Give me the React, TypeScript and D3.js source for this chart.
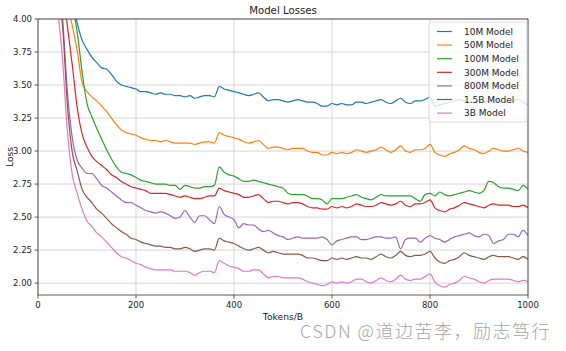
import * as d3 from "d3";

// token axis, one sample every 10 B tokens
const tokens = d3.range(0, 1001, 10);

const loss10M = [9.5, 7.6, 6.4, 5.6, 5.1, 4.7, 4.42, 4.16, 3.97, 3.84, 3.77, 3.71, 3.67, 3.63, 3.62, 3.58, 3.53, 3.5, 3.49, 3.48, 3.47, 3.45, 3.45, 3.44, 3.43, 3.44, 3.43, 3.43, 3.42, 3.42, 3.41, 3.42, 3.4, 3.41, 3.42, 3.42, 3.41, 3.49, 3.47, 3.46, 3.45, 3.44, 3.43, 3.42, 3.43, 3.44, 3.41, 3.38, 3.39, 3.39, 3.38, 3.37, 3.38, 3.39, 3.38, 3.37, 3.37, 3.36, 3.34, 3.34, 3.36, 3.35, 3.36, 3.35, 3.35, 3.37, 3.37, 3.36, 3.37, 3.38, 3.39, 3.37, 3.36, 3.38, 3.4, 3.37, 3.36, 3.38, 3.38, 3.39, 3.41, 3.34, 3.35, 3.36, 3.37, 3.38, 3.39, 3.38, 3.37, 3.37, 3.38, 3.37, 3.38, 3.39, 3.38, 3.37, 3.37, 3.38, 3.39, 3.37, 3.35];
const loss50M = [9.0, 7.2, 6.1, 5.3, 4.8, 4.42, 4.12, 3.95, 3.76, 3.52, 3.45, 3.41, 3.38, 3.34, 3.3, 3.25, 3.2, 3.16, 3.14, 3.13, 3.12, 3.1, 3.09, 3.08, 3.08, 3.07, 3.08, 3.07, 3.06, 3.06, 3.06, 3.06, 3.05, 3.06, 3.07, 3.07, 3.06, 3.14, 3.12, 3.11, 3.1, 3.09, 3.07, 3.06, 3.07, 3.08, 3.05, 3.02, 3.03, 3.03, 3.02, 3.01, 3.02, 3.02, 3.02, 3.0, 2.99, 2.99, 2.97, 2.97, 2.99, 2.98, 2.99, 2.98, 2.99, 3.01, 3.0, 2.99, 3.0, 3.01, 3.03, 3.01, 2.99, 3.01, 3.04, 3.0, 2.99, 3.01, 3.01, 3.02, 3.05, 2.99, 2.97, 2.96, 2.98, 2.99, 3.01, 3.04, 3.02, 3.01, 2.99, 2.98, 3.0, 3.02, 3.01, 3.0, 3.0, 3.01, 3.02, 3.0, 2.99];
const loss100M = [9.8, 8.0, 6.8, 5.9, 5.3, 4.8, 4.42, 4.12, 3.9, 3.6, 3.36, 3.26, 3.17, 3.09, 3.01, 2.94, 2.88, 2.84, 2.83, 2.82, 2.8, 2.78, 2.77, 2.76, 2.75, 2.75, 2.75, 2.74, 2.74, 2.71, 2.74, 2.73, 2.72, 2.72, 2.73, 2.73, 2.74, 2.88, 2.84, 2.82, 2.81, 2.79, 2.77, 2.77, 2.78, 2.77, 2.76, 2.75, 2.74, 2.73, 2.72, 2.68, 2.67, 2.67, 2.67, 2.66, 2.64, 2.64, 2.63, 2.6, 2.64, 2.64, 2.64, 2.65, 2.66, 2.67, 2.65, 2.64, 2.63, 2.65, 2.67, 2.66, 2.66, 2.66, 2.66, 2.66, 2.66, 2.64, 2.62, 2.67, 2.68, 2.66, 2.69, 2.67, 2.66, 2.67, 2.68, 2.69, 2.7, 2.69, 2.68, 2.7, 2.77, 2.76, 2.73, 2.72, 2.72, 2.71, 2.7, 2.74, 2.71];
const loss300M = [8.5, 7.0, 5.9, 5.1, 4.6, 4.22, 3.95, 3.65, 3.33, 3.13, 3.03, 2.96, 2.92, 2.89, 2.86, 2.82, 2.8, 2.77, 2.75, 2.73, 2.72, 2.71, 2.7, 2.68, 2.68, 2.68, 2.68, 2.67, 2.66, 2.65, 2.66, 2.65, 2.64, 2.64, 2.65, 2.66, 2.66, 2.72, 2.7, 2.69, 2.68, 2.67, 2.65, 2.65, 2.66, 2.67, 2.64, 2.61, 2.62, 2.62, 2.61, 2.6, 2.61, 2.61, 2.6, 2.58, 2.57, 2.57, 2.56, 2.56, 2.58, 2.57, 2.58, 2.57, 2.58, 2.6, 2.59, 2.58, 2.58, 2.59, 2.61, 2.6, 2.59, 2.6, 2.62, 2.59, 2.58, 2.6, 2.6, 2.61, 2.63, 2.57, 2.55, 2.54, 2.56, 2.57, 2.59, 2.61, 2.6, 2.59, 2.58, 2.57, 2.59, 2.6, 2.59, 2.59, 2.59, 2.58, 2.58, 2.59, 2.57];
const loss800M = [8.0, 6.6, 5.6, 4.9, 4.35, 4.02, 3.45, 3.1, 2.93, 2.87, 2.83, 2.83, 2.79, 2.74, 2.72, 2.69, 2.66, 2.63, 2.61, 2.61, 2.59, 2.57, 2.55, 2.54, 2.53, 2.54, 2.53, 2.51, 2.49, 2.5, 2.55, 2.5, 2.46, 2.51, 2.51, 2.48, 2.45, 2.58, 2.52, 2.5, 2.48, 2.42, 2.45, 2.44, 2.44, 2.41, 2.39, 2.4, 2.38, 2.36, 2.35, 2.33, 2.34, 2.35, 2.34, 2.34, 2.34, 2.34, 2.35, 2.33, 2.29, 2.32, 2.33, 2.34, 2.35, 2.35, 2.33, 2.33, 2.34, 2.35, 2.35, 2.34, 2.34, 2.35, 2.26, 2.33, 2.34, 2.34, 2.31, 2.34, 2.36, 2.34, 2.33, 2.31, 2.33, 2.35, 2.36, 2.37, 2.38, 2.36, 2.35, 2.37, 2.36, 2.3, 2.32, 2.33, 2.37, 2.37, 2.35, 2.4, 2.36];
const loss1_5B = [7.5, 6.2, 5.3, 4.6, 4.15, 3.95, 3.35, 2.99, 2.85, 2.71, 2.65, 2.61, 2.56, 2.53, 2.49, 2.45, 2.42, 2.39, 2.37, 2.34, 2.33, 2.31, 2.3, 2.29, 2.28, 2.28, 2.27, 2.27, 2.26, 2.26, 2.27, 2.26, 2.24, 2.25, 2.26, 2.26, 2.25, 2.34, 2.32, 2.31, 2.3, 2.28, 2.26, 2.25, 2.26, 2.27, 2.25, 2.23, 2.24, 2.23, 2.22, 2.22, 2.22, 2.22, 2.21, 2.19, 2.19, 2.18, 2.17, 2.17, 2.19, 2.18, 2.19, 2.18, 2.19, 2.2, 2.19, 2.19, 2.18, 2.2, 2.22, 2.2, 2.19, 2.21, 2.24, 2.21, 2.2, 2.21, 2.21, 2.22, 2.24, 2.19, 2.16, 2.15, 2.17, 2.18, 2.2, 2.23, 2.21, 2.2, 2.19, 2.18, 2.2, 2.21, 2.2, 2.2, 2.2, 2.19, 2.18, 2.2, 2.18];
const loss3B = [7.2, 6.0, 5.1, 4.5, 4.08, 3.7, 3.15, 2.82, 2.68, 2.56, 2.47, 2.43, 2.38, 2.35, 2.31, 2.27, 2.23, 2.2, 2.19, 2.17, 2.15, 2.14, 2.12, 2.11, 2.1, 2.1, 2.1, 2.1, 2.09, 2.09, 2.09, 2.08, 2.06, 2.08, 2.09, 2.09, 2.08, 2.17, 2.15, 2.13, 2.12, 2.11, 2.09, 2.09, 2.1, 2.1, 2.07, 2.04, 2.05, 2.05, 2.04, 2.04, 2.04, 2.04, 2.03, 2.01, 2.0, 1.99, 1.98, 1.99, 2.01, 2.0, 2.01, 2.0, 2.01, 2.03, 2.03, 2.01, 2.0, 2.02, 2.04, 2.02, 2.01, 2.03, 2.06, 2.03, 2.02, 2.03, 2.03, 2.05, 2.07, 2.01, 1.98, 1.97, 1.99, 2.0, 2.02, 2.05, 2.04, 2.03, 2.01, 2.0, 2.02, 2.03, 2.03, 2.03, 2.03, 2.02, 2.01, 2.02, 2.01];

const seriesNames = ["10M Model", "50M Model", "100M Model", "300M Model", "800M Model", "1.5B Model", "3B Model"];
const seriesValues = [loss10M, loss50M, loss100M, loss300M, loss800M, loss1_5B, loss3B];
const colors = ["#1f77b4", "#ff7f0e", "#2ca02c", "#d62728", "#9467bd", "#8c564b", "#e377c2"];

const xTicks = [0, 200, 400, 600, 800, 1000];
const yTicks = [2.0, 2.25, 2.5, 2.75, 3.0, 3.25, 3.5, 3.75, 4.0];

const W = 566;
const H = 351;
const margin = { left: 38, right: 38, top: 19, bottom: 56 };
const font = "'DejaVu Sans', sans-serif";

export default function App() {
  const x = d3.scaleLinear().domain([0, 1000]).range([margin.left, W - margin.right]);
  const y = d3.scaleLinear().domain([1.91, 4.0]).range([H - margin.bottom, margin.top]);

  const line = d3
    .line<number>()
    .x((_, i) => x(tokens[i]))
    .y(d => y(d))
    .curve(d3.curveMonotoneX);

  const x0 = x.range()[0], x1 = x.range()[1];
  const yb = y.range()[0], yt = y.range()[1];

  const legX = 429, legY = 22, legW = 98, rowH = 13.6;

  return (
    <svg width={W} height={H} style={{ position: "absolute", left: 0, top: 0, background: "#fff" }} fontFamily={font}>
      <defs>
        <clipPath id="plotClip">
          <rect x={x0} y={yt} width={x1 - x0} height={yb - yt} />
        </clipPath>
      </defs>

      {/* grid */}
      {xTicks.map(t => (
        <line key={"gx" + t} x1={x(t)} x2={x(t)} y1={yt} y2={yb} stroke="#d0d0d0" strokeWidth={0.9} />
      ))}
      {yTicks.map(t => (
        <line key={"gy" + t} x1={x0} x2={x1} y1={y(t)} y2={y(t)} stroke="#d0d0d0" strokeWidth={0.9} />
      ))}

      {/* lines */}
      <g clipPath="url(#plotClip)">
        {seriesValues.map((vals, k) => (
          <path key={seriesNames[k]} d={line(vals) || ""} fill="none" stroke={colors[k]} strokeWidth={1.2} strokeLinejoin="round" />
        ))}
      </g>

      {/* spines */}
      <rect x={x0} y={yt} width={x1 - x0} height={yb - yt} fill="none" stroke="#333" strokeWidth={0.8} />

      {/* x axis */}
      {xTicks.map(t => (
        <g key={"xt" + t}>
          <line x1={x(t)} x2={x(t)} y1={yb} y2={yb + 3.5} stroke="#333" strokeWidth={0.8} />
          <text x={x(t)} y={yb + 12.5} textAnchor="middle" fontSize={8.5} fill="#222">{t}</text>
        </g>
      ))}
      <text x={(x0 + x1) / 2} y={yb + 24.5} textAnchor="middle" fontSize={9.2} fill="#222">Tokens/B</text>

      {/* y axis */}
      {yTicks.map(t => (
        <g key={"yt" + t}>
          <line x1={x0 - 3.5} x2={x0} y1={y(t)} y2={y(t)} stroke="#333" strokeWidth={0.8} />
          <text x={x0 - 6} y={y(t) + 3} textAnchor="end" fontSize={8.5} fill="#222">{d3.format(".2f")(t)}</text>
        </g>
      ))}
      <text transform={`translate(13,${(yt + yb) / 2}) rotate(-90)`} textAnchor="middle" fontSize={9.2} fill="#222">Loss</text>

      {/* title */}
      <text x={(x0 + x1) / 2} y={14} textAnchor="middle" fontSize={10.2} fill="#222">Model Losses</text>

      {/* legend */}
      <rect x={legX} y={legY} width={legW} height={100} rx={2} fill="#fff" fillOpacity={0.8} stroke="#d0d0d0" strokeWidth={0.8} />
      {seriesNames.map((name, i) => (
        <g key={"lg" + name} transform={`translate(${legX},${legY + 9.5 + i * rowH})`}>
          <line x1={8} x2={23} y1={0} y2={0} stroke={colors[i]} strokeWidth={1.2} />
          <text x={35} y={3.2} fontSize={9} fill="#222">{name}</text>
        </g>
      ))}

      {/* watermark */}
      <text x={300} y={338} fontSize={18} letterSpacing={1.5} fontWeight={300} fill="#a6a6a6" fontFamily="'Noto Sans CJK SC', 'Noto Sans', sans-serif">CSDN @道边苦李，励志笃行</text>
    </svg>
  );
}
